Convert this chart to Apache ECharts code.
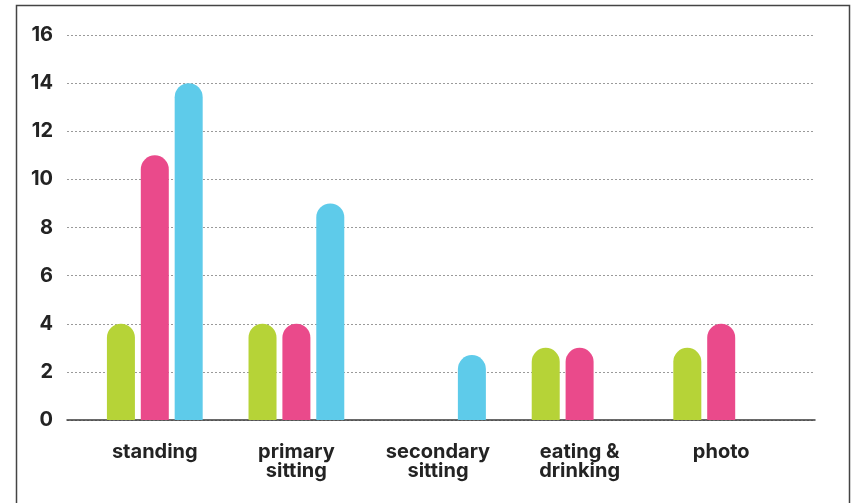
<!DOCTYPE html>
<html>
<head>
<meta charset="utf-8">
<script src="https://cdn.jsdelivr.net/npm/echarts@6/dist/echarts.min.js"></script>
<style>
  html, body { margin: 0; padding: 0; background: #fff; }
  #chart { width: 852px; height: 503px; }
</style>
</head>
<body>
<div id="chart"></div>
<script>
// Seating activity counts per category
const categories = ['standing', 'primary\nsitting', 'secondary\nsitting', 'eating &\ndrinking', 'photo'];
const seriesGreen = [4, 4, null, 3, 3];
const seriesPink  = [11, 4, null, 3, 4];
const seriesCyan  = [14, 9, 2.7, null, null];
const yTicks = { min: 0, max: 16, interval: 2 };

const FONT = 'Inter';
const TEXT = '#232323';

const chart = echarts.init(document.getElementById('chart'));

function barSeries(data, color) {
  return {
    type: 'bar',
    xAxisIndex: 1,
    yAxisIndex: 1,
    data: data,
    barWidth: 28,
    barGap: '21%',
    itemStyle: { color: color, borderRadius: [14, 14, 0, 0] }
  };
}

chart.setOption({
  animation: false,
  grid: [
    // frame grid: y labels, dotted guides and the baseline
    { left: 67, right: 37, top: 35, bottom: 83 },
    // bar grid: narrower so category bands sit inside the baseline
    { left: 84, right: 60, top: 35, bottom: 83 }
  ],
  xAxis: [
    {
      gridIndex: 0, type: 'value', min: 0, max: 1,
      axisLine: { show: true, onZero: false, lineStyle: { color: '#3a3a3a', width: 1.5 } },
      axisTick: { show: false }, axisLabel: { show: false }, splitLine: { show: false }
    },
    {
      gridIndex: 1, type: 'category', data: categories,
      axisLine: { show: false }, axisTick: { show: false },
      axisLabel: {
        margin: 22, color: TEXT, fontFamily: FONT, fontSize: 20, fontWeight: 700,
        lineHeight: 19, interval: 0
      }
    }
  ],
  yAxis: [
    {
      gridIndex: 0, type: 'value', min: yTicks.min, max: yTicks.max, interval: yTicks.interval,
      axisLine: { show: false }, axisTick: { show: false },
      axisLabel: { margin: 14, color: TEXT, fontFamily: FONT, fontSize: 20, fontWeight: 700 },
      splitLine: { show: true, lineStyle: { color: '#9a9a9a', type: [2, 2], width: 1 } }
    },
    {
      gridIndex: 1, type: 'value', min: yTicks.min, max: yTicks.max, interval: yTicks.interval,
      show: false
    }
  ],
  series: [
    barSeries(seriesGreen, '#b6d337'),
    barSeries(seriesPink, '#ea4a8b'),
    barSeries(seriesCyan, '#5ecbea')
  ],
  graphic: [
    {
      type: 'rect', silent: true,
      shape: { x: 16.5, y: 5.5, width: 833, height: 520 },
      style: { fill: 'none', stroke: '#444', lineWidth: 1.5 }
    }
  ]
});
</script>
</body>
</html>
